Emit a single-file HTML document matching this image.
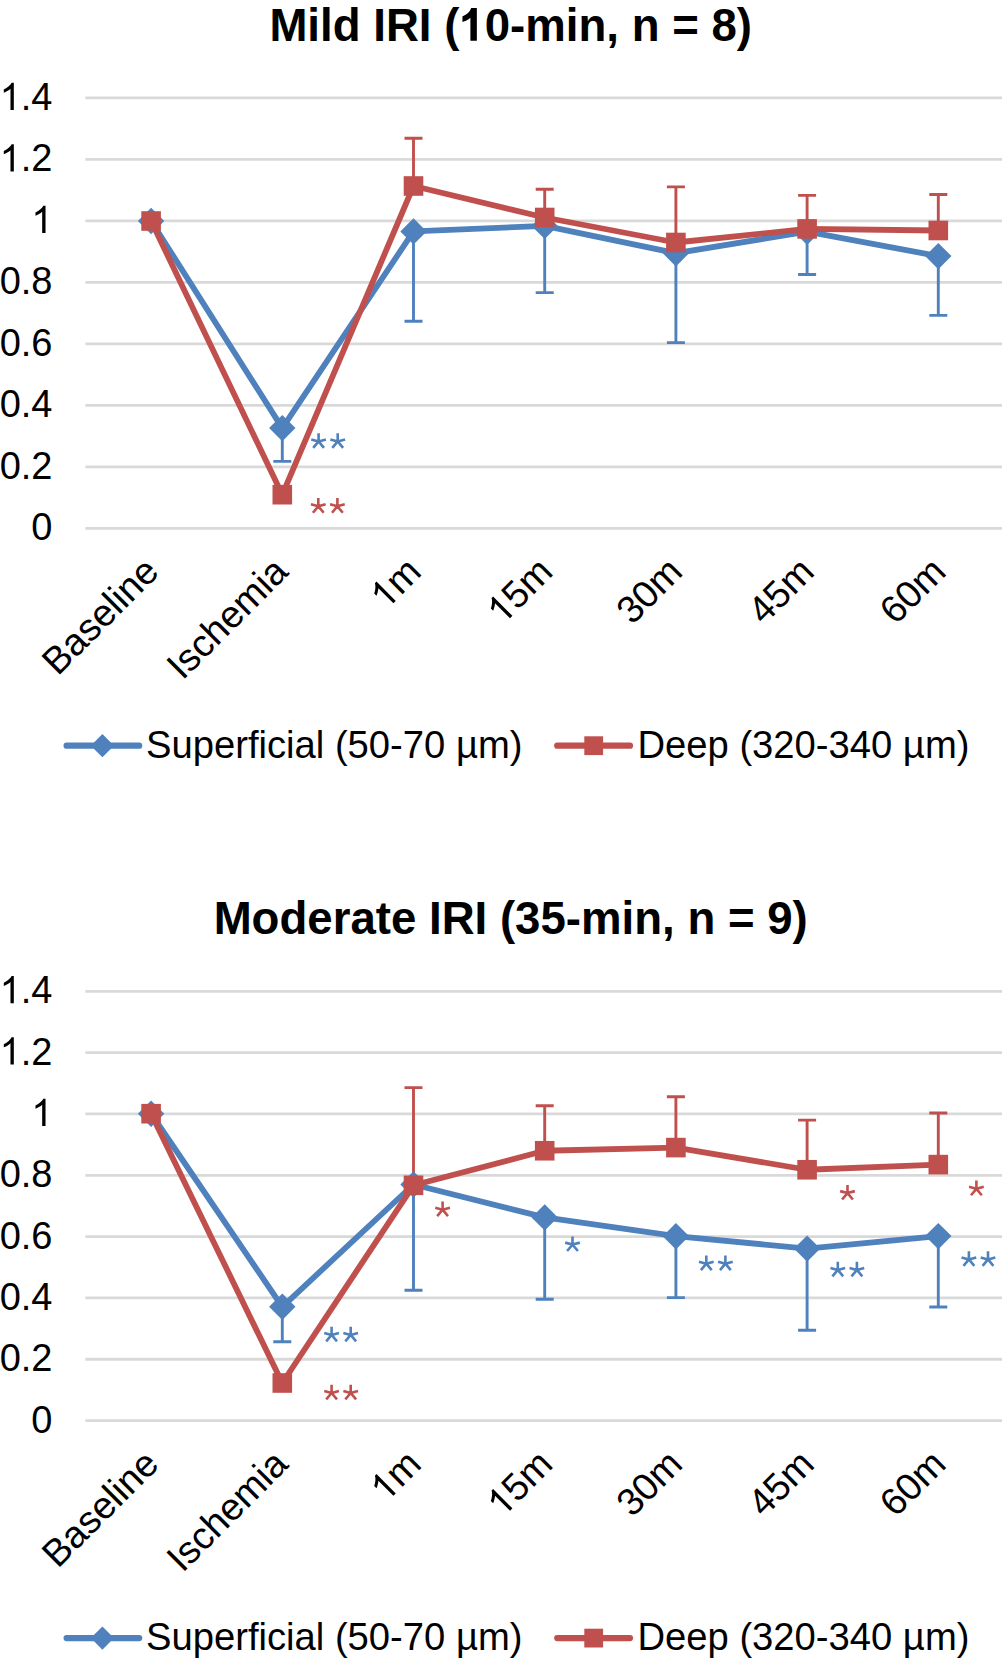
<!DOCTYPE html>
<html><head><meta charset="utf-8"><style>
html,body{margin:0;padding:0;background:#fff;width:1002px;height:1662px;overflow:hidden}
svg{display:block}
text{font-family:"Liberation Sans",sans-serif;fill:#000}
.o1{fill-opacity:0}
.star{font-size:44px;letter-spacing:1.5px}
</style></head><body>
<svg width="1002" height="1662" viewBox="0 0 1002 1662">
<rect width="1002" height="1662" fill="#fff"/>
<text x="510.7" y="40.7" text-anchor="middle" font-weight="bold" font-size="45.6" class="t1">Mild IRI (<tspan class="o1">1</tspan>0-min, n = 8)</text>
<line x1="85.4" x2="1010" y1="528.40" y2="528.40" stroke="#d9d9d9" stroke-width="2.8"/>
<text x="52.5" y="540.40" text-anchor="end" font-size="38" class="t1">0</text>
<line x1="85.4" x2="1010" y1="466.91" y2="466.91" stroke="#d9d9d9" stroke-width="2.8"/>
<text x="52.5" y="478.91" text-anchor="end" font-size="38" class="t1">0.2</text>
<line x1="85.4" x2="1010" y1="405.42" y2="405.42" stroke="#d9d9d9" stroke-width="2.8"/>
<text x="52.5" y="417.42" text-anchor="end" font-size="38" class="t1">0.4</text>
<line x1="85.4" x2="1010" y1="343.93" y2="343.93" stroke="#d9d9d9" stroke-width="2.8"/>
<text x="52.5" y="355.93" text-anchor="end" font-size="38" class="t1">0.6</text>
<line x1="85.4" x2="1010" y1="282.44" y2="282.44" stroke="#d9d9d9" stroke-width="2.8"/>
<text x="52.5" y="294.44" text-anchor="end" font-size="38" class="t1">0.8</text>
<line x1="85.4" x2="1010" y1="220.95" y2="220.95" stroke="#d9d9d9" stroke-width="2.8"/>
<text x="52.5" y="232.95" text-anchor="end" font-size="38" class="t1"><tspan class="o1">1</tspan></text>
<line x1="85.4" x2="1010" y1="159.46" y2="159.46" stroke="#d9d9d9" stroke-width="2.8"/>
<text x="52.5" y="171.46" text-anchor="end" font-size="38" class="t1"><tspan class="o1">1</tspan>.2</text>
<line x1="85.4" x2="1010" y1="97.97" y2="97.97" stroke="#d9d9d9" stroke-width="2.8"/>
<text x="52.5" y="109.97" text-anchor="end" font-size="38" class="t1"><tspan class="o1">1</tspan>.4</text>
<text transform="translate(160.70,573.60) rotate(-45)" x="0" y="0" text-anchor="end" font-size="38" class="xl t1">Baseline</text>
<text transform="translate(290.00,573.60) rotate(-45)" x="0" y="0" text-anchor="end" font-size="38" class="xl t1">Ischemia</text>
<text transform="translate(423.10,573.60) rotate(-45)" x="0" y="0" text-anchor="end" font-size="38" class="xl t1"><tspan class="o1">1</tspan>m</text>
<text transform="translate(554.70,573.60) rotate(-45)" x="0" y="0" text-anchor="end" font-size="38" class="xl t1"><tspan class="o1">1</tspan>5m</text>
<text transform="translate(684.40,573.60) rotate(-45)" x="0" y="0" text-anchor="end" font-size="38" class="xl t1">30m</text>
<text transform="translate(816.10,573.60) rotate(-45)" x="0" y="0" text-anchor="end" font-size="38" class="xl t1">45m</text>
<text transform="translate(947.80,573.60) rotate(-45)" x="0" y="0" text-anchor="end" font-size="38" class="xl t1">60m</text>
<path d="M282.3 428.1V461.4M273.3 461.4H291.3" stroke="#4f81bd" stroke-width="2.9" fill="none"/>
<path d="M413.5 231.4V321.2M404.5 321.2H422.5" stroke="#4f81bd" stroke-width="2.9" fill="none"/>
<path d="M544.7 225.9V292.6M535.7 292.6H553.7" stroke="#4f81bd" stroke-width="2.9" fill="none"/>
<path d="M675.9 253.2V342.6M666.9 342.6H684.9" stroke="#4f81bd" stroke-width="2.9" fill="none"/>
<path d="M807.1 231.7V274.5M798.1 274.5H816.1" stroke="#4f81bd" stroke-width="2.9" fill="none"/>
<path d="M938.3 256.1V315.4M929.3 315.4H947.3" stroke="#4f81bd" stroke-width="2.9" fill="none"/>
<path d="M413.5 186V138.3M404.5 138.3H422.5" stroke="#c0504d" stroke-width="2.9" fill="none"/>
<path d="M544.7 217.5V189.3M535.7 189.3H553.7" stroke="#c0504d" stroke-width="2.9" fill="none"/>
<path d="M675.9 242.5V186.9M666.9 186.9H684.9" stroke="#c0504d" stroke-width="2.9" fill="none"/>
<path d="M807.1 228.9V195.4M798.1 195.4H816.1" stroke="#c0504d" stroke-width="2.9" fill="none"/>
<path d="M938.3 230.5V194.5M929.3 194.5H947.3" stroke="#c0504d" stroke-width="2.9" fill="none"/>
<polyline points="151.1,221 282.3,428.1 413.5,231.4 544.7,225.9 675.9,253.2 807.1,231.7 938.3,256.1" fill="none" stroke="#4f81bd" stroke-width="5.8" stroke-linejoin="round" stroke-linecap="round"/>
<path d="M151.1 207.8L164.29999999999998 221L151.1 234.2L137.9 221Z" fill="#4f81bd"/>
<path d="M282.3 414.90000000000003L295.5 428.1L282.3 441.3L269.1 428.1Z" fill="#4f81bd"/>
<path d="M413.5 218.20000000000002L426.7 231.4L413.5 244.6L400.3 231.4Z" fill="#4f81bd"/>
<path d="M544.7 212.70000000000002L557.9000000000001 225.9L544.7 239.1L531.5 225.9Z" fill="#4f81bd"/>
<path d="M675.9 240.0L689.1 253.2L675.9 266.4L662.6999999999999 253.2Z" fill="#4f81bd"/>
<path d="M807.1 218.5L820.3000000000001 231.7L807.1 244.89999999999998L793.9 231.7Z" fill="#4f81bd"/>
<path d="M938.3 242.90000000000003L951.5 256.1L938.3 269.3L925.0999999999999 256.1Z" fill="#4f81bd"/>
<polyline points="151.1,221 282.3,494.7 413.5,186 544.7,217.5 675.9,242.5 807.1,228.9 938.3,230.5" fill="none" stroke="#c0504d" stroke-width="5.8" stroke-linejoin="round" stroke-linecap="round"/>
<rect x="141.29999999999998" y="211.2" width="19.6" height="19.6" fill="#c0504d"/>
<rect x="272.5" y="484.9" width="19.6" height="19.6" fill="#c0504d"/>
<rect x="403.7" y="176.2" width="19.6" height="19.6" fill="#c0504d"/>
<rect x="534.9000000000001" y="207.7" width="19.6" height="19.6" fill="#c0504d"/>
<rect x="666.1" y="232.7" width="19.6" height="19.6" fill="#c0504d"/>
<rect x="797.3000000000001" y="219.1" width="19.6" height="19.6" fill="#c0504d"/>
<rect x="928.5" y="220.7" width="19.6" height="19.6" fill="#c0504d"/>
<path d="M318.60 441.40l0.00 -8.20M318.60 441.40l7.34 -1.97M318.60 441.40l5.40 6.43M318.60 441.40l-7.34 -1.97M318.60 441.40l-5.40 6.43" stroke="#4f81bd" stroke-width="2.6" fill="none"/>
<path d="M337.70 441.40l0.00 -8.20M337.70 441.40l7.34 -1.97M337.70 441.40l5.40 6.43M337.70 441.40l-7.34 -1.97M337.70 441.40l-5.40 6.43" stroke="#4f81bd" stroke-width="2.6" fill="none"/>
<path d="M318.30 506.30l0.00 -8.20M318.30 506.30l7.34 -1.97M318.30 506.30l5.40 6.43M318.30 506.30l-7.34 -1.97M318.30 506.30l-5.40 6.43" stroke="#c0504d" stroke-width="2.6" fill="none"/>
<path d="M337.40 506.30l0.00 -8.20M337.40 506.30l7.34 -1.97M337.40 506.30l5.40 6.43M337.40 506.30l-7.34 -1.97M337.40 506.30l-5.40 6.43" stroke="#c0504d" stroke-width="2.6" fill="none"/>
<line x1="66.6" x2="139.2" y1="745.7" y2="745.7" stroke="#4f81bd" stroke-width="6.2" stroke-linecap="round"/>
<path d="M102.4 734.1L114.0 745.7L102.4 757.3000000000001L90.80000000000001 745.7Z" fill="#4f81bd"/>
<text x="146" y="757.9000000000001" font-size="38.2">Superficial (50-70 µm)</text>
<line x1="557.2" x2="630" y1="745.7" y2="745.7" stroke="#c0504d" stroke-width="6.2" stroke-linecap="round"/>
<rect x="584.3" y="736.3000000000001" width="18.8" height="18.8" fill="#c0504d"/>
<text x="637.5" y="757.9000000000001" font-size="38.2">Deep (320-340 µm)</text>
<text x="510.7" y="934.2" text-anchor="middle" font-weight="bold" font-size="45.6" class="t1">Moderate IRI (35-min, n = 9)</text>
<line x1="85.4" x2="1010" y1="1420.60" y2="1420.60" stroke="#d9d9d9" stroke-width="2.8"/>
<text x="52.5" y="1432.60" text-anchor="end" font-size="38" class="t1">0</text>
<line x1="85.4" x2="1010" y1="1359.27" y2="1359.27" stroke="#d9d9d9" stroke-width="2.8"/>
<text x="52.5" y="1371.27" text-anchor="end" font-size="38" class="t1">0.2</text>
<line x1="85.4" x2="1010" y1="1297.94" y2="1297.94" stroke="#d9d9d9" stroke-width="2.8"/>
<text x="52.5" y="1309.94" text-anchor="end" font-size="38" class="t1">0.4</text>
<line x1="85.4" x2="1010" y1="1236.61" y2="1236.61" stroke="#d9d9d9" stroke-width="2.8"/>
<text x="52.5" y="1248.61" text-anchor="end" font-size="38" class="t1">0.6</text>
<line x1="85.4" x2="1010" y1="1175.28" y2="1175.28" stroke="#d9d9d9" stroke-width="2.8"/>
<text x="52.5" y="1187.28" text-anchor="end" font-size="38" class="t1">0.8</text>
<line x1="85.4" x2="1010" y1="1113.95" y2="1113.95" stroke="#d9d9d9" stroke-width="2.8"/>
<text x="52.5" y="1125.95" text-anchor="end" font-size="38" class="t1"><tspan class="o1">1</tspan></text>
<line x1="85.4" x2="1010" y1="1052.62" y2="1052.62" stroke="#d9d9d9" stroke-width="2.8"/>
<text x="52.5" y="1064.62" text-anchor="end" font-size="38" class="t1"><tspan class="o1">1</tspan>.2</text>
<line x1="85.4" x2="1010" y1="991.29" y2="991.29" stroke="#d9d9d9" stroke-width="2.8"/>
<text x="52.5" y="1003.29" text-anchor="end" font-size="38" class="t1"><tspan class="o1">1</tspan>.4</text>
<text transform="translate(160.70,1466.10) rotate(-45)" x="0" y="0" text-anchor="end" font-size="38" class="xl t1">Baseline</text>
<text transform="translate(290.00,1466.10) rotate(-45)" x="0" y="0" text-anchor="end" font-size="38" class="xl t1">Ischemia</text>
<text transform="translate(423.10,1466.10) rotate(-45)" x="0" y="0" text-anchor="end" font-size="38" class="xl t1"><tspan class="o1">1</tspan>m</text>
<text transform="translate(554.70,1466.10) rotate(-45)" x="0" y="0" text-anchor="end" font-size="38" class="xl t1"><tspan class="o1">1</tspan>5m</text>
<text transform="translate(684.40,1466.10) rotate(-45)" x="0" y="0" text-anchor="end" font-size="38" class="xl t1">30m</text>
<text transform="translate(816.10,1466.10) rotate(-45)" x="0" y="0" text-anchor="end" font-size="38" class="xl t1">45m</text>
<text transform="translate(947.80,1466.10) rotate(-45)" x="0" y="0" text-anchor="end" font-size="38" class="xl t1">60m</text>
<path d="M282.3 1306.8V1341.7M273.3 1341.7H291.3" stroke="#4f81bd" stroke-width="2.9" fill="none"/>
<path d="M413.5 1184.5V1290.2M404.5 1290.2H422.5" stroke="#4f81bd" stroke-width="2.9" fill="none"/>
<path d="M544.7 1217.4V1299.3M535.7 1299.3H553.7" stroke="#4f81bd" stroke-width="2.9" fill="none"/>
<path d="M675.9 1236.2V1297.6M666.9 1297.6H684.9" stroke="#4f81bd" stroke-width="2.9" fill="none"/>
<path d="M807.1 1248.6V1330.3M798.1 1330.3H816.1" stroke="#4f81bd" stroke-width="2.9" fill="none"/>
<path d="M938.3 1236.1V1307M929.3 1307H947.3" stroke="#4f81bd" stroke-width="2.9" fill="none"/>
<path d="M413.5 1185.3V1087.6M404.5 1087.6H422.5" stroke="#c0504d" stroke-width="2.9" fill="none"/>
<path d="M544.7 1150.75V1105.8M535.7 1105.8H553.7" stroke="#c0504d" stroke-width="2.9" fill="none"/>
<path d="M675.9 1147.6V1096.7M666.9 1096.7H684.9" stroke="#c0504d" stroke-width="2.9" fill="none"/>
<path d="M807.1 1169.75V1120.1M798.1 1120.1H816.1" stroke="#c0504d" stroke-width="2.9" fill="none"/>
<path d="M938.3 1164.6V1113M929.3 1113H947.3" stroke="#c0504d" stroke-width="2.9" fill="none"/>
<polyline points="151.1,1113.75 282.3,1306.8 413.5,1184.5 544.7,1217.4 675.9,1236.2 807.1,1248.6 938.3,1236.1" fill="none" stroke="#4f81bd" stroke-width="5.8" stroke-linejoin="round" stroke-linecap="round"/>
<path d="M151.1 1100.55L164.29999999999998 1113.75L151.1 1126.95L137.9 1113.75Z" fill="#4f81bd"/>
<path d="M282.3 1293.6L295.5 1306.8L282.3 1320.0L269.1 1306.8Z" fill="#4f81bd"/>
<path d="M413.5 1171.3L426.7 1184.5L413.5 1197.7L400.3 1184.5Z" fill="#4f81bd"/>
<path d="M544.7 1204.2L557.9000000000001 1217.4L544.7 1230.6000000000001L531.5 1217.4Z" fill="#4f81bd"/>
<path d="M675.9 1223.0L689.1 1236.2L675.9 1249.4L662.6999999999999 1236.2Z" fill="#4f81bd"/>
<path d="M807.1 1235.3999999999999L820.3000000000001 1248.6L807.1 1261.8L793.9 1248.6Z" fill="#4f81bd"/>
<path d="M938.3 1222.8999999999999L951.5 1236.1L938.3 1249.3L925.0999999999999 1236.1Z" fill="#4f81bd"/>
<polyline points="151.1,1113.7 282.3,1383 413.5,1185.3 544.7,1150.75 675.9,1147.6 807.1,1169.75 938.3,1164.6" fill="none" stroke="#c0504d" stroke-width="5.8" stroke-linejoin="round" stroke-linecap="round"/>
<rect x="141.29999999999998" y="1103.9" width="19.6" height="19.6" fill="#c0504d"/>
<rect x="272.5" y="1373.2" width="19.6" height="19.6" fill="#c0504d"/>
<rect x="403.7" y="1175.5" width="19.6" height="19.6" fill="#c0504d"/>
<rect x="534.9000000000001" y="1140.95" width="19.6" height="19.6" fill="#c0504d"/>
<rect x="666.1" y="1137.8" width="19.6" height="19.6" fill="#c0504d"/>
<rect x="797.3000000000001" y="1159.95" width="19.6" height="19.6" fill="#c0504d"/>
<rect x="928.5" y="1154.8" width="19.6" height="19.6" fill="#c0504d"/>
<path d="M331.60 1334.90l0.00 -8.20M331.60 1334.90l7.34 -1.97M331.60 1334.90l5.40 6.43M331.60 1334.90l-7.34 -1.97M331.60 1334.90l-5.40 6.43" stroke="#4f81bd" stroke-width="2.6" fill="none"/>
<path d="M350.70 1334.90l0.00 -8.20M350.70 1334.90l7.34 -1.97M350.70 1334.90l5.40 6.43M350.70 1334.90l-7.34 -1.97M350.70 1334.90l-5.40 6.43" stroke="#4f81bd" stroke-width="2.6" fill="none"/>
<path d="M331.60 1393.00l0.00 -8.20M331.60 1393.00l7.34 -1.97M331.60 1393.00l5.40 6.43M331.60 1393.00l-7.34 -1.97M331.60 1393.00l-5.40 6.43" stroke="#c0504d" stroke-width="2.6" fill="none"/>
<path d="M350.70 1393.00l0.00 -8.20M350.70 1393.00l7.34 -1.97M350.70 1393.00l5.40 6.43M350.70 1393.00l-7.34 -1.97M350.70 1393.00l-5.40 6.43" stroke="#c0504d" stroke-width="2.6" fill="none"/>
<path d="M442.60 1209.70l0.00 -8.20M442.60 1209.70l7.34 -1.97M442.60 1209.70l5.40 6.43M442.60 1209.70l-7.34 -1.97M442.60 1209.70l-5.40 6.43" stroke="#c0504d" stroke-width="2.6" fill="none"/>
<path d="M572.50 1244.60l0.00 -8.20M572.50 1244.60l7.34 -1.97M572.50 1244.60l5.40 6.43M572.50 1244.60l-7.34 -1.97M572.50 1244.60l-5.40 6.43" stroke="#4f81bd" stroke-width="2.6" fill="none"/>
<path d="M706.30 1263.70l0.00 -8.20M706.30 1263.70l7.34 -1.97M706.30 1263.70l5.40 6.43M706.30 1263.70l-7.34 -1.97M706.30 1263.70l-5.40 6.43" stroke="#4f81bd" stroke-width="2.6" fill="none"/>
<path d="M725.40 1263.70l0.00 -8.20M725.40 1263.70l7.34 -1.97M725.40 1263.70l5.40 6.43M725.40 1263.70l-7.34 -1.97M725.40 1263.70l-5.40 6.43" stroke="#4f81bd" stroke-width="2.6" fill="none"/>
<path d="M847.50 1193.10l0.00 -8.20M847.50 1193.10l7.34 -1.97M847.50 1193.10l5.40 6.43M847.50 1193.10l-7.34 -1.97M847.50 1193.10l-5.40 6.43" stroke="#c0504d" stroke-width="2.6" fill="none"/>
<path d="M837.80 1269.90l0.00 -8.20M837.80 1269.90l7.34 -1.97M837.80 1269.90l5.40 6.43M837.80 1269.90l-7.34 -1.97M837.80 1269.90l-5.40 6.43" stroke="#4f81bd" stroke-width="2.6" fill="none"/>
<path d="M856.90 1269.90l0.00 -8.20M856.90 1269.90l7.34 -1.97M856.90 1269.90l5.40 6.43M856.90 1269.90l-7.34 -1.97M856.90 1269.90l-5.40 6.43" stroke="#4f81bd" stroke-width="2.6" fill="none"/>
<path d="M976.40 1188.80l0.00 -8.20M976.40 1188.80l7.34 -1.97M976.40 1188.80l5.40 6.43M976.40 1188.80l-7.34 -1.97M976.40 1188.80l-5.40 6.43" stroke="#c0504d" stroke-width="2.6" fill="none"/>
<path d="M968.90 1259.40l0.00 -8.20M968.90 1259.40l7.34 -1.97M968.90 1259.40l5.40 6.43M968.90 1259.40l-7.34 -1.97M968.90 1259.40l-5.40 6.43" stroke="#4f81bd" stroke-width="2.6" fill="none"/>
<path d="M988.00 1259.40l0.00 -8.20M988.00 1259.40l7.34 -1.97M988.00 1259.40l5.40 6.43M988.00 1259.40l-7.34 -1.97M988.00 1259.40l-5.40 6.43" stroke="#4f81bd" stroke-width="2.6" fill="none"/>
<line x1="66.6" x2="139.2" y1="1638.1000000000001" y2="1638.1000000000001" stroke="#4f81bd" stroke-width="6.2" stroke-linecap="round"/>
<path d="M102.4 1626.5000000000002L114.0 1638.1000000000001L102.4 1649.7L90.80000000000001 1638.1000000000001Z" fill="#4f81bd"/>
<text x="146" y="1650.3000000000002" font-size="38.2">Superficial (50-70 µm)</text>
<line x1="557.2" x2="630" y1="1638.1000000000001" y2="1638.1000000000001" stroke="#c0504d" stroke-width="6.2" stroke-linecap="round"/>
<rect x="584.3" y="1628.7" width="18.8" height="18.8" fill="#c0504d"/>
<text x="637.5" y="1650.3000000000002" font-size="38.2">Deep (320-340 µm)</text>
<path transform="translate(459.35,40.70) scale(0.022266,-0.022266)" d="M786 0H496V1030C390 930 260 870 140 840V1100C300 1150 470 1280 530 1470H786Z"/>
<path transform="translate(31.36,232.95) scale(0.018555,-0.018555)" d="M763 0H583V1147Q518 1085 412 1023Q307 961 223 930V1104Q374 1175 487 1276Q600 1377 647 1472H763Z"/>
<path transform="translate(-0.34,171.46) scale(0.018555,-0.018555)" d="M763 0H583V1147Q518 1085 412 1023Q307 961 223 930V1104Q374 1175 487 1276Q600 1377 647 1472H763Z"/>
<path transform="translate(-0.34,109.97) scale(0.018555,-0.018555)" d="M763 0H583V1147Q518 1085 412 1023Q307 961 223 930V1104Q374 1175 487 1276Q600 1377 647 1472H763Z"/>
<g transform="translate(423.10,573.60) rotate(-45)"><path transform="translate(-52.80,0.00) scale(0.018555,-0.018555)" d="M763 0H583V1147Q518 1085 412 1023Q307 961 223 930V1104Q374 1175 487 1276Q600 1377 647 1472H763Z"/></g>
<g transform="translate(554.70,573.60) rotate(-45)"><path transform="translate(-73.94,0.00) scale(0.018555,-0.018555)" d="M763 0H583V1147Q518 1085 412 1023Q307 961 223 930V1104Q374 1175 487 1276Q600 1377 647 1472H763Z"/></g>
<path transform="translate(31.36,1125.95) scale(0.018555,-0.018555)" d="M763 0H583V1147Q518 1085 412 1023Q307 961 223 930V1104Q374 1175 487 1276Q600 1377 647 1472H763Z"/>
<path transform="translate(-0.34,1064.62) scale(0.018555,-0.018555)" d="M763 0H583V1147Q518 1085 412 1023Q307 961 223 930V1104Q374 1175 487 1276Q600 1377 647 1472H763Z"/>
<path transform="translate(-0.34,1003.29) scale(0.018555,-0.018555)" d="M763 0H583V1147Q518 1085 412 1023Q307 961 223 930V1104Q374 1175 487 1276Q600 1377 647 1472H763Z"/>
<g transform="translate(423.10,1466.10) rotate(-45)"><path transform="translate(-52.80,0.00) scale(0.018555,-0.018555)" d="M763 0H583V1147Q518 1085 412 1023Q307 961 223 930V1104Q374 1175 487 1276Q600 1377 647 1472H763Z"/></g>
<g transform="translate(554.70,1466.10) rotate(-45)"><path transform="translate(-73.94,0.00) scale(0.018555,-0.018555)" d="M763 0H583V1147Q518 1085 412 1023Q307 961 223 930V1104Q374 1175 487 1276Q600 1377 647 1472H763Z"/></g>
</svg>
</body></html>
